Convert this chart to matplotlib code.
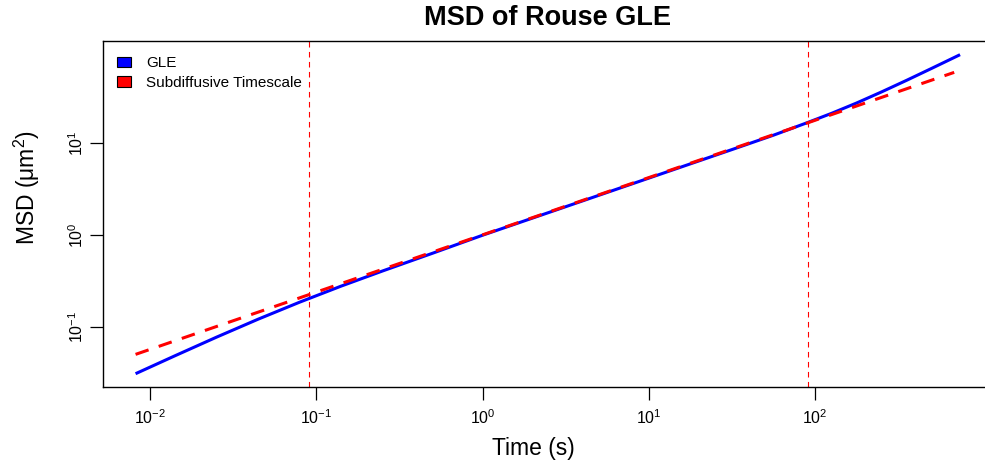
import matplotlib
matplotlib.use("Agg")
import matplotlib.pyplot as plt
from matplotlib.patches import Patch

# ---- data ----
time_gle = [0.0082, 0.01413, 0.02512, 0.04467, 0.0794, 0.1413, 0.2512, 0.501, 1.0,
            3.16, 10.0, 31.6, 56.2, 89.0, 125.9, 177.8, 251.0, 355.0, 501.0, 743.0]
msd_gle = [0.0314, 0.0491, 0.0782, 0.1225, 0.1875, 0.2805, 0.410, 0.638, 1.0,
           2.04, 4.17, 8.51, 12.2, 16.6, 21.1, 27.3, 36.0, 48.1, 64.7, 91.2]

time_sub = [0.0082, 685.0]
msd_sub = [0.0509, 58.6]

vlines = [0.09, 90.0]

xticks = [1e-2, 1e-1, 1e0, 1e1, 1e2]
xticklabels = [r"$10^{-2}$", r"$10^{-1}$", r"$10^{0}$", r"$10^{1}$", r"$10^{2}$"]
yticks = [1e-1, 1e0, 1e1]
yticklabels = [r"$10^{-1}$", r"$10^{0}$", r"$10^{1}$"]

legend_labels = ["GLE", "Subdiffusive Timescale"]

# ---- style ----
plt.rcParams["font.family"] = ["Liberation Sans", "DejaVu Sans"]
plt.rcParams["mathtext.fontset"] = "custom"
plt.rcParams["mathtext.rm"] = "Liberation Sans"
plt.rcParams["mathtext.it"] = "Liberation Sans:italic"
plt.rcParams["mathtext.bf"] = "Liberation Sans:bold"

W, H = 985, 465
fig = plt.figure(figsize=(W / 100, H / 100), dpi=100)
left, right, top, bottom = 103, 993, 41.5, 386.5
ax = fig.add_axes([left / W, (H - bottom) / H, (right - left) / W, (bottom - top) / H])

ax.set_xscale("log")
ax.set_yscale("log")
ax.set_xlim(10 ** -2.282, 10 ** 3.069)
ax.set_ylim(10 ** -1.642, 10 ** 2.103)

ax.plot(time_gle, msd_gle, color="blue", lw=2.2, solid_capstyle="butt",
        solid_joinstyle="round", zorder=3)
ax.plot(time_sub, msd_sub, color="red", lw=2.2, linestyle=(0, (4.5, 3.5)),
        dash_capstyle="butt", zorder=4)
for v in vlines:
    ax.axvline(v, color="red", lw=0.8, linestyle=(0, (5, 4)), zorder=2)

ax.set_xticks(xticks)
ax.set_xticklabels(xticklabels)
ax.set_yticks(yticks)
ax.set_yticklabels(yticklabels)
ax.minorticks_off()
ax.tick_params(axis="both", which="major", direction="out", length=9.5, width=0.9,
               labelsize=11.5, colors="black")
ax.tick_params(axis="x", pad=6)
ax.tick_params(axis="y", pad=3)
plt.setp(ax.get_yticklabels(), rotation=90, va="center")

for s in ax.spines.values():
    s.set_linewidth(1.0)
    s.set_color("black")

ax.set_title("MSD of Rouse GLE", fontsize=19.5, fontweight="bold", pad=12)
ax.set_xlabel("Time (s)", fontsize=16.5)
ax.xaxis.set_label_coords(0.484, -0.146)
ax.set_ylabel(r"MSD (μm$^{2}$)", fontsize=16.5)
ax.yaxis.set_label_coords(-0.0685, 0.578)

handles = [Patch(facecolor="blue", edgecolor="black", lw=0.8),
           Patch(facecolor="red", edgecolor="black", lw=0.8)]
ax.legend(handles, legend_labels, loc="upper left", bbox_to_anchor=(0.0157, 0.958),
          frameon=False, fontsize=11, borderpad=0, borderaxespad=0,
          handlelength=0.92, handleheight=0.65, handletextpad=1.0, labelspacing=0.38)

fig.savefig("out.png", dpi=100)
